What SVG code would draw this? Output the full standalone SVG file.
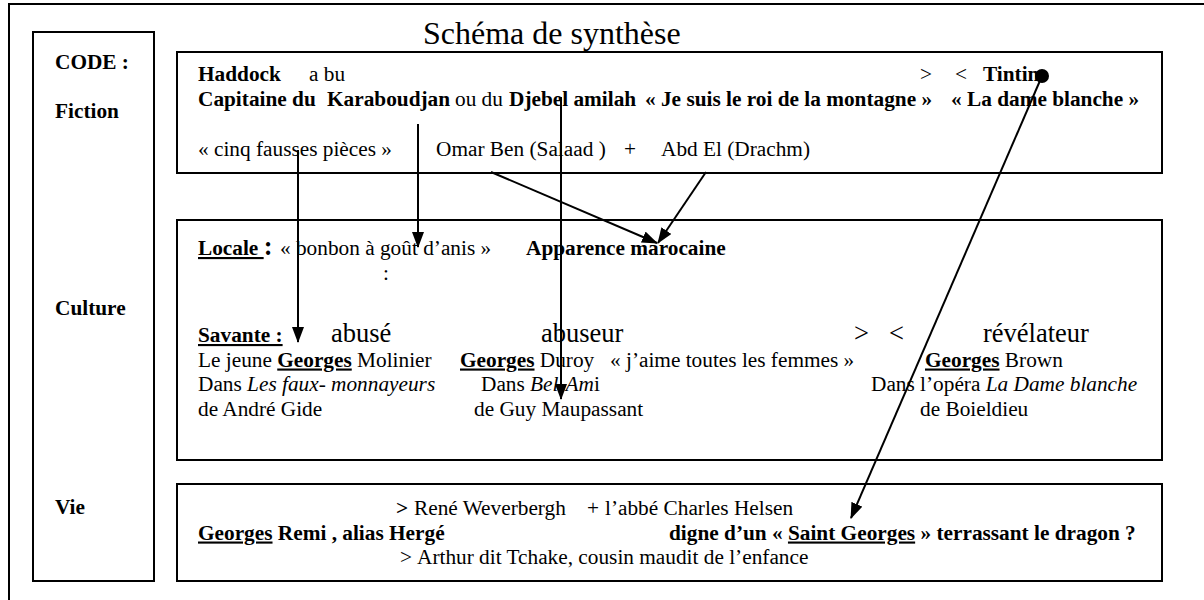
<svg xmlns="http://www.w3.org/2000/svg" width="1204" height="600" viewBox="0 0 1204 600">
<defs>
<marker id="ah" markerWidth="16" markerHeight="12" refX="15" refY="6" orient="auto" markerUnits="userSpaceOnUse"><path d="M0,0 L16,6 L0,12 z" fill="#000"/></marker>
</defs>
<style>
text{font-family:"Liberation Serif","Times New Roman",serif;font-size:21.3px;fill:#000}
.b{font-weight:bold}
.i{font-style:italic}
.u{text-decoration:underline}
.big{font-size:26.5px}
.title{font-size:32px}
.box{fill:#fff;stroke:#000;stroke-width:2}
.c{stroke:#000;stroke-width:2;fill:none}
</style>
<rect width="1204" height="600" fill="#fff"/>
<g id="frame"><rect x="9" y="4" width="1220" height="620" fill="none" stroke="#000" stroke-width="2"/></g>
<g id="title"><text class="title" x="423" y="44">Schéma de synthèse</text></g>
<g id="code-column">
<rect class="box" x="33" y="32" width="121" height="549"/>
<text class="b" x="55" y="69">CODE :</text>
<text class="b" x="55" y="118">Fiction</text>
<text class="b" x="55" y="315">Culture</text>
<text class="b" x="55" y="514">Vie</text>
</g>
<g id="fiction">
<rect class="box" x="177" y="52" width="985" height="121"/>
<text class="b" x="198" y="81">Haddock</text>
<text x="309" y="81">a bu</text>
<text x="920" y="81">&gt;</text>
<text x="955" y="81">&lt;</text>
<text class="b" x="983" y="81">Tintin</text>
<text class="b" x="198" y="105.5">Capitaine du</text>
<text class="b" x="327" y="105.5">Karaboudjan</text>
<text x="455" y="105.5">ou du</text>
<text class="b" x="509" y="105.5">Djebel amilah</text>
<text class="b" x="645" y="105.5">« Je suis le roi de la montagne »</text>
<text class="b" x="951" y="105.5">« La dame blanche »</text>
<text x="198" y="156">« cinq fausses pièces »</text>
<text x="436" y="156">Omar Ben (Salaad )</text>
<text x="624" y="156">+</text>
<text x="661" y="156">Abd El (Drachm)</text>
</g>
<g id="culture">
<rect class="box" x="177" y="220" width="985" height="240"/>
<text x="198" y="255"><tspan class="b u">Locale </tspan><tspan class="b big">:</tspan></text>
<text x="280" y="255">« bonbon à goût d’anis »</text>
<text class="b" x="526" y="255">Apparence marocaine</text>
<text x="383" y="280">:</text>
<text class="b u" x="198" y="342">Savante :</text>
<text class="big" x="331" y="342">abusé</text>
<text class="big" x="541" y="342">abuseur</text>
<text class="big" x="854" y="342">&gt;</text>
<text class="big" x="889" y="342">&lt;</text>
<text class="big" x="983" y="342">révélateur</text>
<text x="198" y="366.5">Le jeune <tspan class="b u">Georges</tspan> Molinier</text>
<text x="460" y="366.5"><tspan class="b u">Georges</tspan> Duroy</text>
<text x="610" y="366.5">« j’aime toutes les femmes »</text>
<text x="925" y="366.5"><tspan class="b u">Georges</tspan> Brown</text>
<text x="198" y="391">Dans <tspan class="i">Les faux- monnayeurs</tspan></text>
<text x="481" y="391">Dans <tspan class="i">Bel-Am</tspan>i</text>
<text x="871" y="391">Dans l’opéra <tspan class="i">La Dame blanche</tspan></text>
<text x="198" y="415.5">de André Gide</text>
<text x="474" y="415.5">de Guy Maupassant</text>
<text x="920" y="415.5">de Boieldieu</text>
</g>
<g id="vie">
<rect class="box" x="177" y="484" width="985" height="97"/>
<text class="b" x="396" y="515">&gt;</text>
<text x="414" y="515">René Weverbergh</text>
<text x="587" y="515">+</text>
<text x="605" y="515">l’abbé Charles Helsen</text>
<text class="b" x="198" y="539.5"><tspan class="u">Georges</tspan> Remi , alias Hergé</text>
<text class="b" x="669" y="539.5">digne d’un « <tspan class="u">Saint Georges</tspan> » terrassant le dragon ?</text>
<text x="400" y="564">&gt;</text>
<text x="417" y="564">Arthur dit Tchake, cousin maudit de l’enfance</text>
</g>
<g id="connectors">
<line class="c" x1="298" y1="150" x2="298" y2="342" marker-end="url(#ah)"/>
<line class="c" x1="418" y1="124" x2="418" y2="247" marker-end="url(#ah)"/>
<line class="c" x1="561" y1="97" x2="561" y2="399" marker-end="url(#ah)"/>
<line class="c" x1="491" y1="172" x2="657" y2="243" marker-end="url(#ah)"/>
<line class="c" x1="706" y1="172" x2="658" y2="243" marker-end="url(#ah)"/>
<circle cx="1042" cy="76" r="7" fill="#000"/>
<line class="c" x1="1042" y1="76" x2="851" y2="518" marker-end="url(#ah)"/>
</g>
</svg>
